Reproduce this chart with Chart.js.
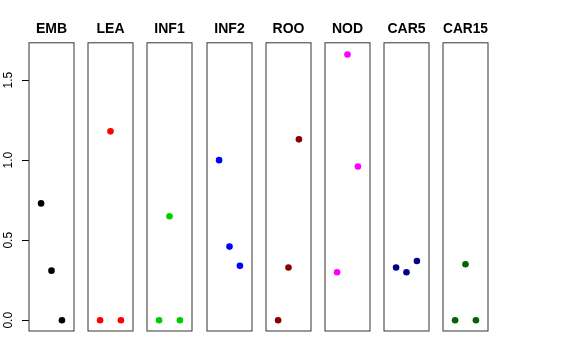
<!DOCTYPE html>
<html>
<head>
<meta charset="utf-8">
<script src="https://cdn.jsdelivr.net/npm/chart.js@4/dist/chart.umd.min.js"></script>
<style>
  html, body { margin: 0; padding: 0; background: #fff; }
  #wrap { position: relative; width: 576px; height: 360px; overflow: hidden; }
  .panel { position: absolute; top: 0; height: 360px; }
</style>
</head>
<body>
<div id="wrap"></div>
<script>
// Data
const tissues = ["EMB", "LEA", "INF1", "INF2", "ROO", "NOD", "CAR5", "CAR15"];
const tissueColors = ["#000000", "#FF0000", "#00CD00", "#0000FF", "#8B0000", "#FF00FF", "#00008B", "#006400"];
const xPositions = [1, 2, 3];
const embVals = [0.73, 0.31, 0.0];
const leaVals = [0.0, 1.18, 0.0];
const inf1Vals = [0.0, 0.65, 0.0];
const inf2Vals = [1.0, 0.46, 0.34];
const rooVals = [0.0, 0.33, 1.13];
const nodVals = [0.3, 1.66, 0.96];
const car5Vals = [0.33, 0.3, 0.37];
const car15Vals = [0.0, 0.35, 0.0];
const yTicks = [0, 0.5, 1.0, 1.5];

const allVals = [embVals, leaVals, inf1Vals, inf2Vals, rooVals, nodVals, car5Vals, car15Vals];

// Layout of the panels
const panelLefts = [29, 88, 147, 207, 266, 325, 384, 443];
const panelWidth = 45;
const yAxisWidth = 29;
const margin = 5;

// Frame round each plot area
const framePlugin = {
  id: "frame",
  afterDraw(chart) {
    const { ctx, chartArea } = chart;
    ctx.save();
    ctx.strokeStyle = "#333";
    ctx.lineWidth = 1;
    ctx.strokeRect(chartArea.left, chartArea.top, chartArea.right - chartArea.left, chartArea.bottom - chartArea.top);
    ctx.restore();
  },
};

const wrap = document.getElementById("wrap");

tissues.forEach(function (name, i) {
  const first = i === 0;
  const div = document.createElement("div");
  div.className = "panel";
  const left = first ? 0 : panelLefts[i] - margin;
  const width = first ? yAxisWidth + panelWidth + margin : panelWidth + 2 * margin;
  div.style.left = left + "px";
  div.style.width = width + "px";
  const canvas = document.createElement("canvas");
  div.appendChild(canvas);
  wrap.appendChild(div);

  new Chart(canvas, {
    type: "scatter",
    data: {
      datasets: [
        {
          data: xPositions.map((x, k) => ({ x: x, y: allVals[i][k] })),
          backgroundColor: tissueColors[i],
          borderWidth: 0,
          pointRadius: 3.3,
          clip: false,
        },
      ],
    },
    options: {
      responsive: true,
      maintainAspectRatio: false,
      animation: false,
      events: [],
      layout: {
        padding: { left: first ? 0 : margin, right: margin, top: 0, bottom: 29 },
      },
      plugins: {
        legend: { display: false },
        tooltip: { enabled: false },
        title: {
          display: true,
          fullSize: false,
          text: name,
          color: "#000",
          font: { family: "Liberation Sans", size: 14, weight: "bold" },
          padding: { top: 21, bottom: 5 },
        },
      },
      scales: {
        x: {
          type: "linear",
          display: false,
          min: -0.16,
          max: 4.16,
        },
        y: {
          type: "linear",
          display: first,
          min: -0.067,
          max: 1.733,
          afterBuildTicks: (axis) => {
            axis.ticks = yTicks.map((v) => ({ value: v }));
          },
          afterFit: (scale) => {
            scale.width = first ? yAxisWidth : 0;
          },
          grid: {
            drawOnChartArea: false,
            drawTicks: true,
            tickLength: 7,
            tickColor: "#000",
          },
          border: { display: false },
          ticks: {
            minRotation: 90,
            maxRotation: 90,
            crossAlign: "center",
            padding: 5,
            color: "#000",
            font: { family: "Liberation Sans", size: 12 },
            callback: (v) => Number(v).toFixed(1),
          },
        },
      },
    },
    plugins: [framePlugin],
  });
});
</script>
</body>
</html>
